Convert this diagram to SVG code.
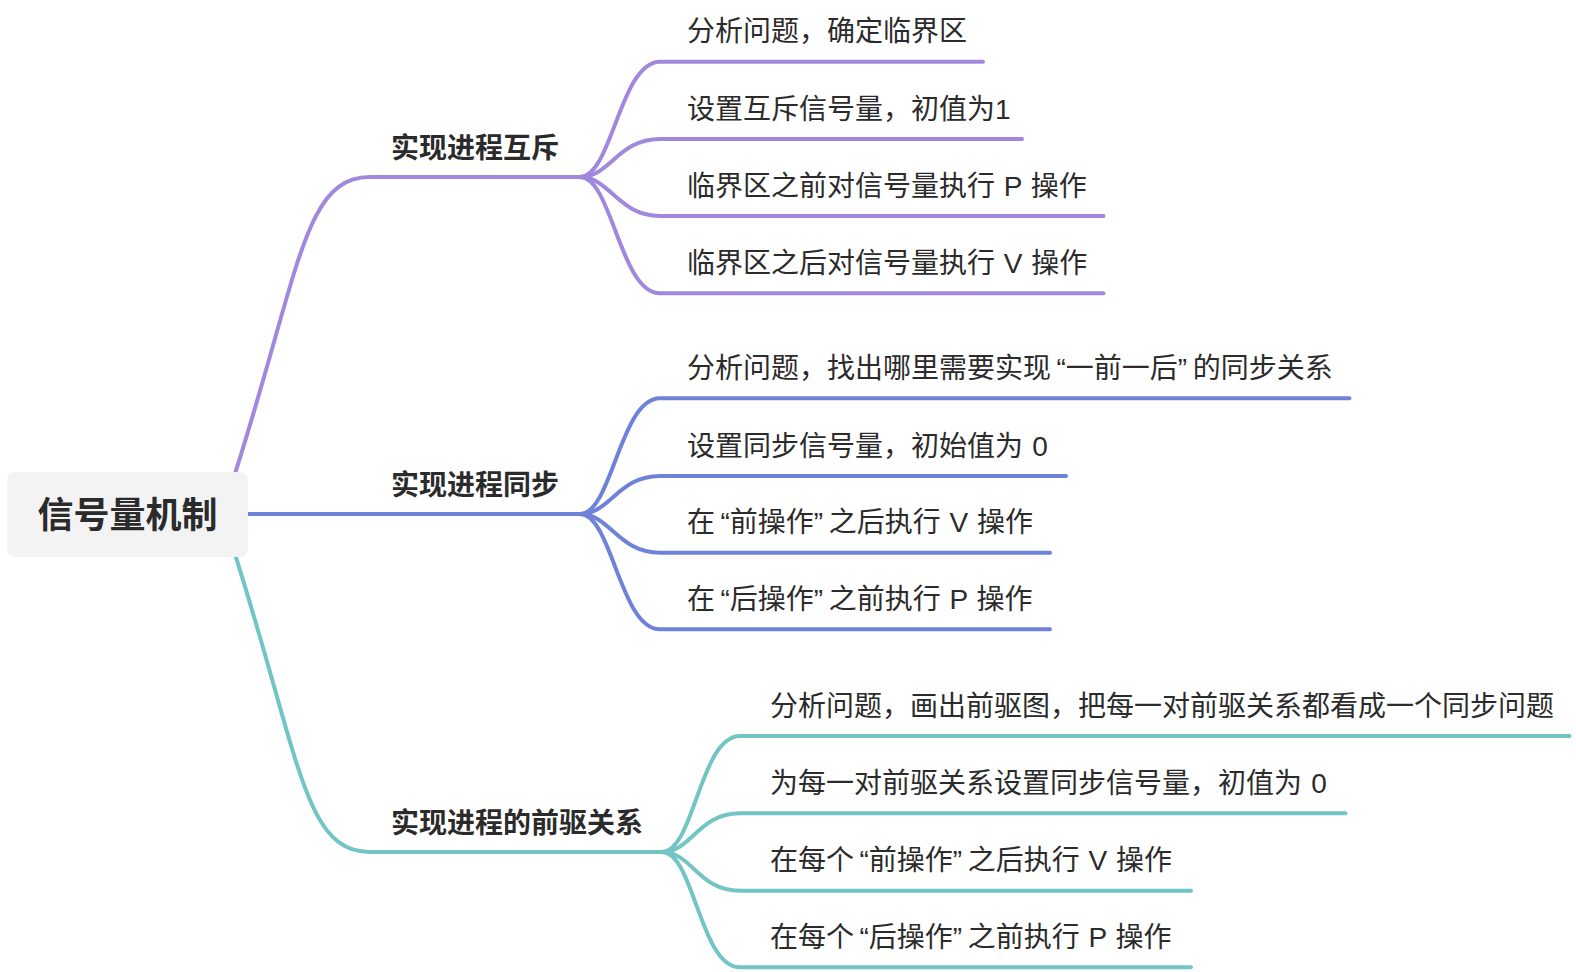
<svg xmlns="http://www.w3.org/2000/svg" width="1576" height="972" viewBox="0 0 1576 972">
<style>
  .t{font-family:"Liberation Sans","Noto Sans CJK SC",sans-serif;font-size:28px;fill:#2b2b2b}
  .lb{font-weight:700}
  .root{font-family:"Liberation Sans","Noto Sans CJK SC",sans-serif;font-size:36px;font-weight:700;fill:#2b2b2b}
  .c{fill:none;stroke-width:4;stroke-linecap:round;stroke-linejoin:round}
  .pu{stroke:#a088de}
  .bl{stroke:#6f82da}
  .te{stroke:#72c5c4}
</style>
<rect width="1576" height="972" fill="#ffffff"/>
<g id="connectors">
  <path class="c pu" d="M222,514 C300,280 300,177 370,177 H585"/>
  <path class="c bl" d="M240,514 H585"/>
  <path class="c te" d="M222,514 C300,748 300,852 370,852 H667"/>

  <path class="c pu" d="M580,177 C612,177 620,61.7 660,61.7 H983"/>
  <path class="c pu" d="M580,177 C610,177 618,139 660,139 H1022"/>
  <path class="c pu" d="M580,177 C610,177 618,216 660,216 H1103.5"/>
  <path class="c pu" d="M580,177 C612,177 620,293.3 660,293.3 H1103.5"/>

  <path class="c bl" d="M580,514 C612,514 620,398.3 660,398.3 H1349.5"/>
  <path class="c bl" d="M580,514 C610,514 618,476 660,476 H1066"/>
  <path class="c bl" d="M580,514 C610,514 618,552.7 660,552.7 H1050"/>
  <path class="c bl" d="M580,514 C612,514 620,629.3 660,629.3 H1050"/>

  <path class="c te" d="M662,852 C694,852 700,736 740,736 H1569.5"/>
  <path class="c te" d="M662,852 C692,852 698,813.3 740,813.3 H1345.5"/>
  <path class="c te" d="M662,852 C692,852 698,890.7 740,890.7 H1191"/>
  <path class="c te" d="M662,852 C694,852 700,967.3 740,967.3 H1191"/>
</g>
<g id="root">
  <rect x="7" y="472" width="241" height="85" rx="8" ry="8" fill="#f3f3f4"/>
  <text class="root" x="127.5" y="527.5" text-anchor="middle">信号量机制</text>
</g>
<g id="mutex">
  <text class="t lb" x="391" y="158">实现进程互斥</text>
</g>
<g id="mutex-1"><text class="t" x="687" y="41.3">分析问题，确定临界区</text></g>
<g id="mutex-2"><text class="t" x="687" y="118.6">设置互斥信号量，初值为1</text></g>
<g id="mutex-3"><text class="t" x="687" y="195.6">临界区之前对信号量执行<tspan dx="1"> P </tspan><tspan dx="1">操作</tspan></text></g>
<g id="mutex-4"><text class="t" x="687" y="272.9">临界区之后对信号量执行<tspan dx="1"> V </tspan><tspan dx="1">操作</tspan></text></g>
<g id="sync">
  <text class="t lb" x="391" y="495">实现进程同步</text>
</g>
<g id="sync-1"><text class="t" x="687" y="377.9">分析问题，找出哪里需要实现<tspan dx="5.5">“</tspan>一前一后”<tspan dx="5.5">的同步关系</tspan></text></g>
<g id="sync-2"><text class="t" x="687" y="455.6">设置同步信号量，初始值为<tspan dx="1.5"> 0</tspan></text></g>
<g id="sync-3"><text class="t" x="687" y="532.3">在<tspan dx="5.5">“</tspan>前操作”<tspan dx="5.5">之后执行</tspan><tspan dx="1"> V </tspan><tspan dx="1">操作</tspan></text></g>
<g id="sync-4"><text class="t" x="687" y="608.9">在<tspan dx="5.5">“</tspan>后操作”<tspan dx="5.5">之前执行</tspan><tspan dx="1"> P </tspan><tspan dx="1">操作</tspan></text></g>
<g id="precedence">
  <text class="t lb" x="391" y="833">实现进程的前驱关系</text>
</g>
<g id="prec-1"><text class="t" x="770" y="715.6">分析问题，画出前驱图，把每一对前驱关系都看成一个同步问题</text></g>
<g id="prec-2"><text class="t" x="770" y="792.9">为每一对前驱关系设置同步信号量，初值为<tspan dx="1.5"> 0</tspan></text></g>
<g id="prec-3"><text class="t" x="770" y="870.3">在每个<tspan dx="5.5">“</tspan>前操作”<tspan dx="5.5">之后执行</tspan><tspan dx="1"> V </tspan><tspan dx="1">操作</tspan></text></g>
<g id="prec-4"><text class="t" x="770" y="946.9">在每个<tspan dx="5.5">“</tspan>后操作”<tspan dx="5.5">之前执行</tspan><tspan dx="1"> P </tspan><tspan dx="1">操作</tspan></text></g>
</svg>
